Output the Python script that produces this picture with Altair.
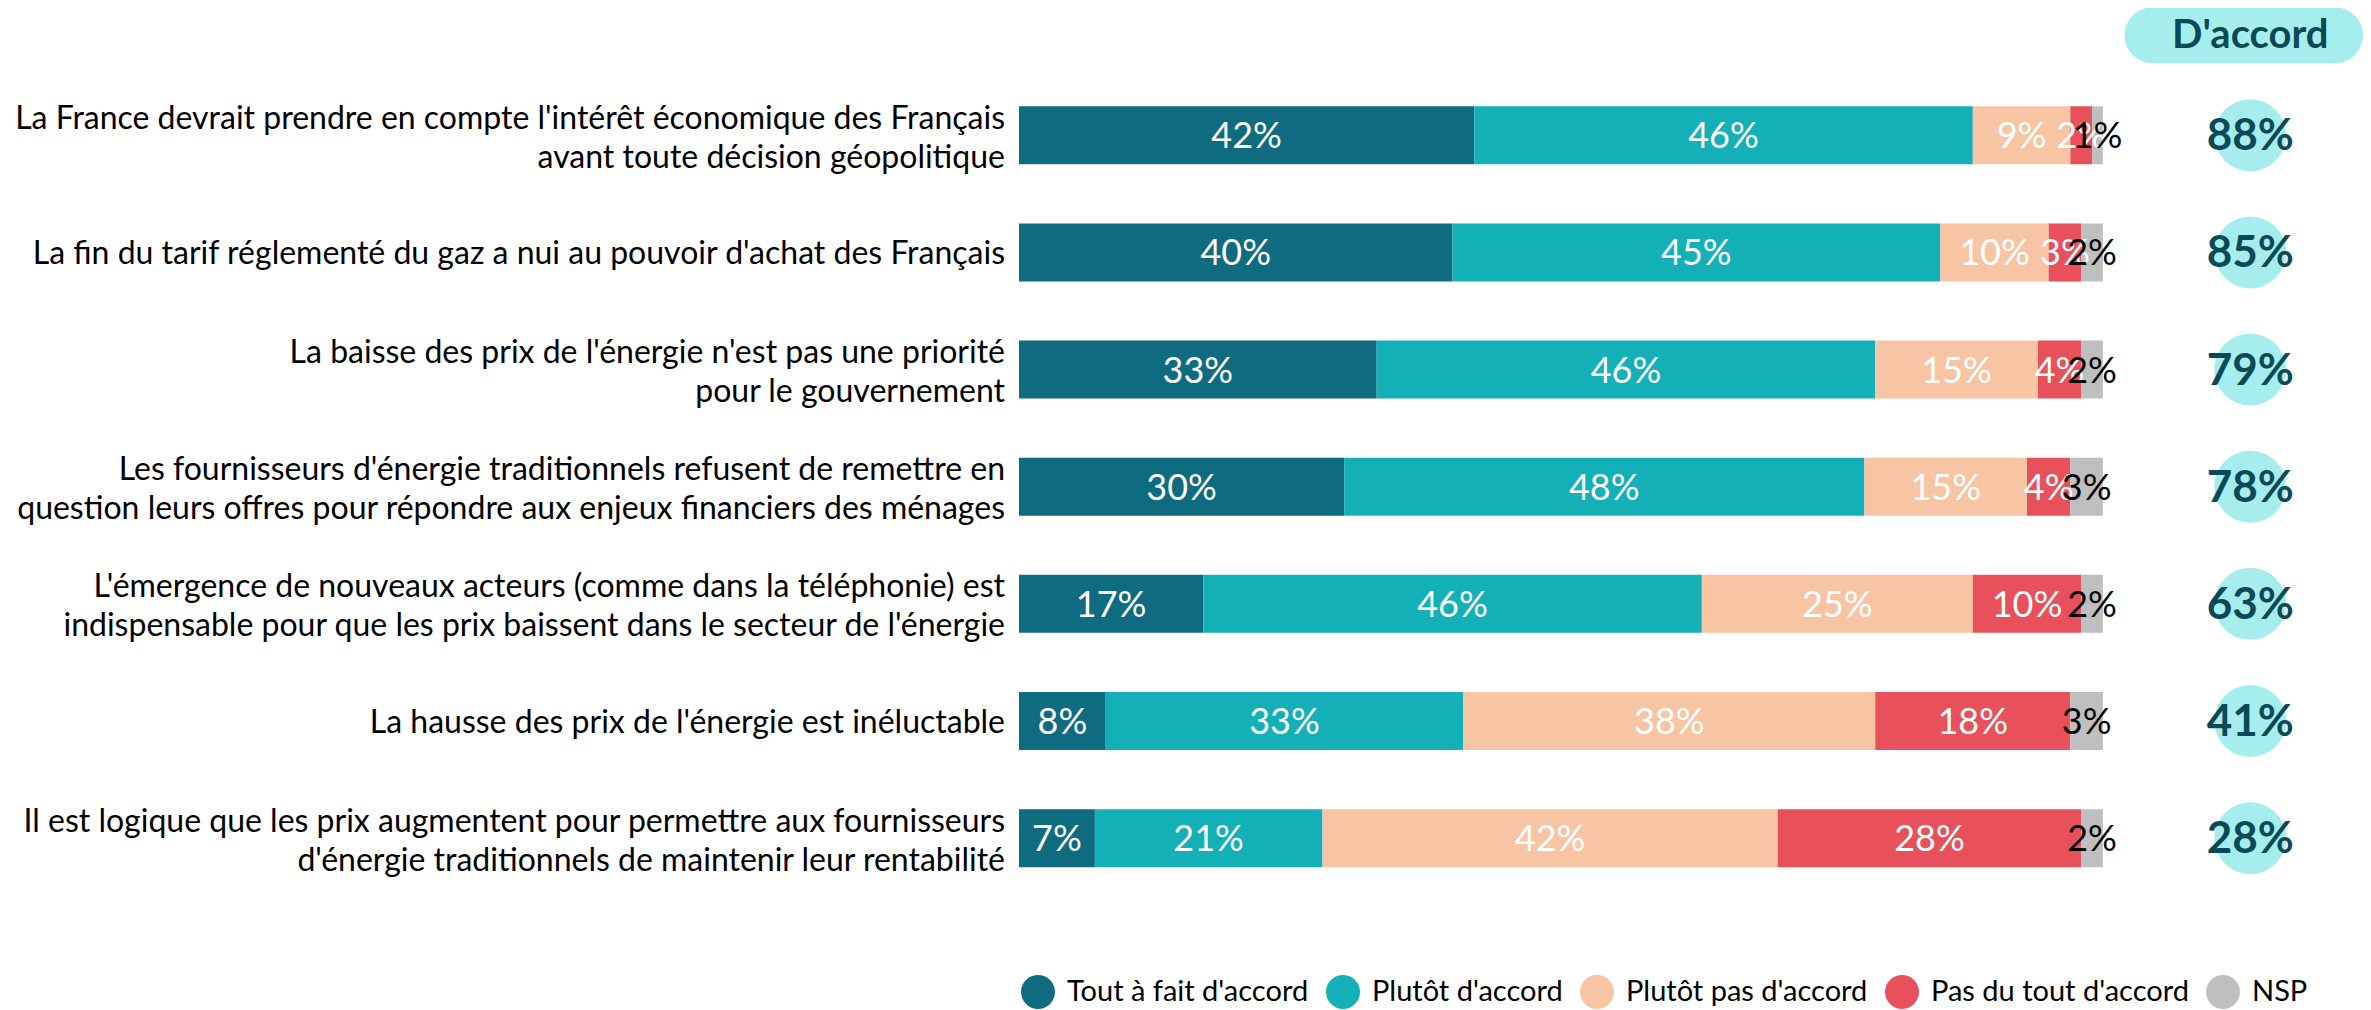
import altair as alt
import pandas as pd

statements = [
    "La France devrait prendre en compte l'intérêt économique des Français\navant toute décision géopolitique",
    "La fin du tarif réglementé du gaz a nui au pouvoir d'achat des Français",
    "La baisse des prix de l'énergie n'est pas une priorité\npour le gouvernement",
    "Les fournisseurs d'énergie traditionnels refusent de remettre en\nquestion leurs offres pour répondre aux enjeux financiers des ménages",
    "L'émergence de nouveaux acteurs (comme dans la téléphonie) est\nindispensable pour que les prix baissent dans le secteur de l'énergie",
    "La hausse des prix de l'énergie est inéluctable",
    "Il est logique que les prix augmentent pour permettre aux fournisseurs\nd'énergie traditionnels de maintenir leur rentabilité",
]
categories = ["Tout à fait d'accord", "Plutôt d'accord", "Plutôt pas d'accord",
              "Pas du tout d'accord", "NSP"]
colors = ["#0f6b80", "#14b0b8", "#f7c4a4", "#e8505b", "#bfbfbf"]

tout_a_fait = [42, 40, 33, 30, 17, 8, 7]
plutot = [46, 45, 46, 48, 46, 33, 21]
plutot_pas = [9, 10, 15, 15, 25, 38, 42]
pas_du_tout = [2, 3, 4, 4, 10, 18, 28]
nsp = [1, 2, 2, 3, 2, 3, 2]
daccord = [88, 85, 79, 78, 63, 41, 28]
header_text = "D'accord"

FONT = "Lato"
DARK = "#0a4a57"
LIGHT = "#a6eeee"
LINE_H = 39

# layout positions in scale units
COL_X = 113.6
PILL_X0, PILL_X1 = 102.0, 124.0
HEAD_Y = -0.8535

series = [tout_a_fait, plutot, plutot_pas, pas_du_tout, nsp]
rows = []
for i in range(len(statements)):
    for k, cat in enumerate(categories):
        v = series[k][i]
        rows.append({"idx": i, "cat": cat, "order": k, "value": v,
                     "lbl": f"{v}%", "tc": "black" if cat == "NSP" else "white"})
df = pd.DataFrame(rows)
df_rows = pd.DataFrame({"idx": list(range(len(statements))), "statement": statements,
                        "nlines": [s.count("\n") + 1 for s in statements],
                        "acc": [f"{v}%" for v in daccord],
                        "zero": [0] * len(statements),
                        "colx": [COL_X] * len(statements)})
df_head = pd.DataFrame({"label": [header_text], "x0": [PILL_X0], "x1": [PILL_X1],
                        "cx": [COL_X], "y": [HEAD_Y]})

D0 = -1.0437
xscale = alt.Scale(domain=[0, 124], nice=False, zero=False)
yscale = alt.Scale(domain=[D0, D0 + 8.4678], nice=False, zero=False, reverse=True)

X = lambda f: alt.X(f, scale=xscale, axis=None)
Y = lambda f: alt.Y(f, scale=yscale, axis=None)

base = alt.Chart(df).transform_stack(
    stack="value", groupby=["idx"], as_=["x0", "x1"], sort=[alt.SortField("order")]
)

bars = base.mark_bar(size=58).encode(
    x=X("x0:Q"),
    x2="x1:Q",
    y=Y("idx:Q"),
    color=alt.Color("cat:N", scale=alt.Scale(domain=categories, range=colors),
                    legend=alt.Legend(orient="none", legendX=2, legendY=967,
                                      direction="horizontal", columns=5, title=None,
                                      symbolType="circle", symbolSize=1156,
                                      symbolStrokeWidth=0, symbolOpacity=1,
                                      labelFont=FONT, labelFontSize=29,
                                      labelColor="black", labelOffset=12,
                                      columnPadding=17, padding=0, labelLimit=400)),
)

seg_labels = base.transform_calculate(mid="(datum.x0 + datum.x1) / 2").mark_text(
    font=FONT, fontSize=36, baseline="middle", align="center", dy=2
).encode(
    x=X("mid:Q"),
    y=Y("idx:Q"),
    text="lbl:N",
    color=alt.Color("tc:N", scale=None),
)

def row_label_layer(n, dy):
    return alt.Chart(df_rows).transform_filter(f"datum.nlines == {n}").mark_text(
        font=FONT, fontSize=32, align="right", baseline="middle", dx=-14, dy=dy,
        lineBreak="\n", lineHeight=LINE_H, color="black"
    ).encode(
        x=X("zero:Q"),
        y=Y("idx:Q"),
        text="statement:N",
    )

row_labels_1 = row_label_layer(1, 2)
row_labels_2 = row_label_layer(2, -LINE_H / 2 + 3)

circles = alt.Chart(df_rows).mark_point(
    filled=True, shape="circle", size=5184, color=LIGHT, opacity=1
).encode(
    x=X("colx:Q"),
    y=Y("idx:Q"),
)

acc_text = alt.Chart(df_rows).mark_text(
    font=FONT, fontSize=44, fontWeight="bold", color=DARK, baseline="middle", dy=2
).encode(
    x=X("colx:Q"),
    y=Y("idx:Q"),
    text="acc:N",
)

pill = alt.Chart(df_head).mark_bar(size=56, cornerRadius=28, color=LIGHT).encode(
    x=X("x0:Q"),
    x2="x1:Q",
    y=Y("y:Q"),
)

head_text = alt.Chart(df_head).mark_text(
    font=FONT, fontSize=40, fontWeight="bold", color=DARK, baseline="middle", dy=1
).encode(
    x=X("cx:Q"),
    y=Y("y:Q"),
    text="label:N",
)

chart = alt.layer(pill, head_text, bars, seg_labels, row_labels_1, row_labels_2,
                  circles, acc_text).properties(
    width=1344, height=1002,
    padding={"left": 1011, "top": 0, "right": 0, "bottom": 0},
    autosize=alt.AutoSizeParams(type="none"),
    background="white",
).configure_view(stroke=None)

chart.save("out.html", embed_options={"renderer": "svg", "actions": False})
